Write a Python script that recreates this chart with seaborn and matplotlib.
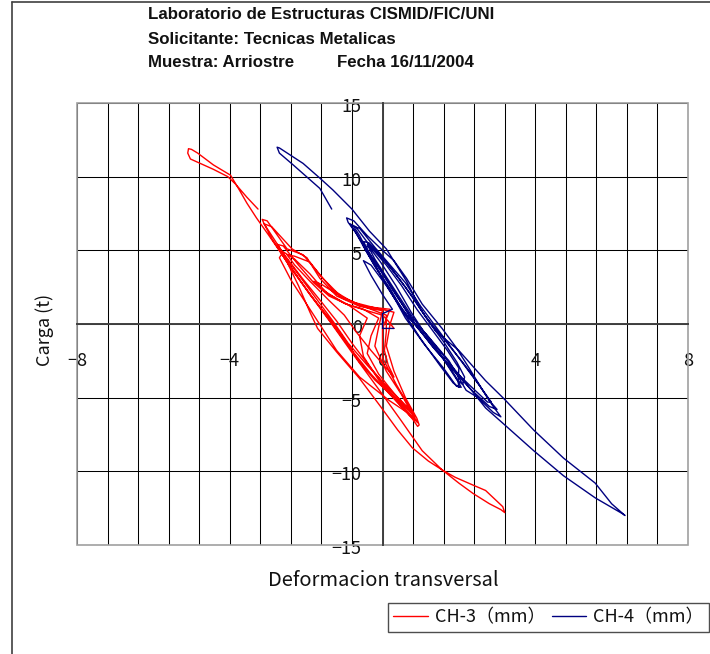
import matplotlib
matplotlib.use("Agg")
import matplotlib.pyplot as plt
from matplotlib.lines import Line2D
from matplotlib.patches import Rectangle
from matplotlib.ticker import MultipleLocator, FuncFormatter
from matplotlib.transforms import ScaledTranslation
import seaborn as sns

# Header texts
TITLE_1 = "Laboratorio de Estructuras CISMID/FIC/UNI"
TITLE_2 = "Solicitante: Tecnicas Metalicas"
TITLE_3 = "Muestra: Arriostre"
TITLE_4 = "Fecha 16/11/2004"
X_LABEL = "Deformacion transversal"
Y_LABEL = "Carga (t)"
SERIES = ["CH-3（mm）", "CH-4（mm）"]

# CH-3 hysteresis path (deformation, load)
# small cycles around the origin
red_small_x = [0.3, 0.15, 0.0,
               -0.4, -0.9, -1.4, -1.8, -1.6, -1.0, -0.4, 0.1, 0.1, 0.05, 0.15, 0.3, 0.1, -0.3, -0.7, -1.0,
               -1.4, -1.9, -2.3, -2.5, -2.3, -1.9, -1.6, -1.1, -0.5, 0.2, 0.0, 0.0, 0.36, 0.7, 0.85, 0.6, 0.2, -0.3, -0.8, -1.2, -1.6,
               -2.1, -2.6, -2.9, -3.1, -3.15, -3.02, -2.5, -2.08, -1.72, -1.3, -0.8, -0.2, 0.3, 0.2, 0.1, 0.3, 0.6, 0.9, 0.96, 0.92, 0.8, 0.4,
               -0.2, -0.6, -1.0, -1.4, -1.9, -2.4, -2.9, -3.1]
red_small_y = [-0.3, 0.2, 0.6,
               0.9, 1.3, 2.0, 2.9, 2.7, 1.7, 1.1, 0.6, -0.5, -1.8, -2.8, -3.6, -3.0, -1.8, -0.5, 0.6,
               1.6, 2.9, 4.0, 4.7, 4.6, 4.2, 3.2, 1.9, 1.2, 1.0, -0.3, -2.3, -4.1, -5.6, -6.3, -5.7, -4.6, -3.0, -1.3, 0.2, 1.5,
               3.1, 4.8, 6.0, 6.8, 7.1, 7.0, 5.1, 4.7, 3.6, 2.3, 1.5, 1.1, 0.8, 0.0, -1.5, -3.2, -5.0, -6.4, -6.85, -6.95, -6.5, -5.2,
               -3.8, -2.6, -1.0, 0.4, 2.0, 3.8, 5.8, 6.8]
red_mid_x = [-2.9, -2.37, -1.98, -1.64, -1.2, -0.6, 0.0, -0.1, -0.2, 0.1, 0.5, 0.8, 0.92, 0.7, 0.18, -0.6, -1.2, -1.6, -2.0, -2.4, -2.7,
             -2.6, -2.3, -1.9, -1.5, -1.0, -0.5, -0.1, -0.3, -0.4, -0.1, 0.3, 0.6, 0.75, 0.6, 0.1, -0.4, -0.9, -1.3, -1.7, -2.1, -2.5, -2.75, -2.6,
             -2.2, -1.8, -1.4, -0.9, -0.4, -0.6, -0.5, -0.1, 0.35, 0.7, 0.85, 0.65, 0.2, -0.3, -0.8, -1.2, -1.6, -2.0, -2.4, -2.6]
red_mid_y = [6.6, 5.1, 4.5, 3.1, 1.9, 1.2, 0.9, -0.2, -1.5, -3.2, -4.8, -6.2, -6.7, -6.1, -5.2, -3.6, -1.8, -0.2, 1.4, 3.0, 4.5,
             4.9, 4.4, 3.4, 2.2, 1.4, 1.0, 0.4, -0.8, -2.0, -3.4, -4.7, -5.6, -5.9, -5.5, -4.2, -2.8, -1.3, 0.2, 1.6, 3.0, 4.4, 5.4, 5.3,
             4.0, 2.8, 1.9, 1.3, 0.4, -0.8, -2.2, -3.8, -5.2, -6.2, -6.5, -6.0, -4.8, -3.4, -1.8, -0.4, 1.0, 2.4, 3.8, 4.6]
# last large cycle: down to the minimum, back up to the peak, stop at 7.8 t
red_big_x = [-2.5, -2.2, -1.9, -1.7, -1.2, -0.6, -0.08, 0.4, 0.78, 1.2, 1.56, 2.0, 2.37, 2.8, 3.1, 3.2,
             3.15, 2.7, 2.34, 1.9, 1.56, 1.04, 0.5, -0.08, -0.7, -1.33, -1.9, -2.3, -2.68, -3.0, -3.3, -3.55, -3.75, -3.98,
             -4.43, -4.84, -5.0, -5.08, -5.1, -5.03, -4.77, -4.43, -4.05, -3.85, -3.55, -3.26]
red_big_y = [4.2, 2.6, 0.8, -0.3, -1.9, -3.7, -5.5, -7.2, -8.4, -9.3, -9.9, -10.8, -11.5, -12.2, -12.6, -12.8,
             -12.4, -11.3, -10.9, -10.4, -9.9, -8.6, -6.6, -4.5, -2.3, 0.0, 2.0, 3.5, 4.9, 6.1, 7.2, 8.2, 9.1, 10.1,
             10.8, 11.6, 11.85, 11.9, 11.6, 11.2, 10.9, 10.5, 10.0, 9.5, 8.6, 7.8]

# CH-4 hysteresis path
blue_small_x = [0.3, 0.0, 0.0, 0.26,
                0.0, -0.3, -0.5, -0.3, 0.1, 0.5, 1.0, 1.5, 1.9, 2.06, 1.93, 1.6, 1.1, 0.6, 0.26, 0.0,
                -0.42, -0.7, -0.9, -0.94, -0.75, -0.4, 0.0, 0.3, 0.63, 1.04, 1.56, 1.93, 2.27, 2.6, 2.9, 3.1, 2.9, 2.5, 2.19, 1.74, 1.15, 0.7, 0.3, 0.0, -0.3,
                -0.6, -0.85, -0.7, -0.3, 0.1, 0.5, 0.9, 1.3, 1.7, 2.0, 1.98, 2.0, 1.85, 1.5, 1.0, 0.6, 0.2, -0.2]
blue_small_y = [-0.3, -0.3, 0.7, 1.0,
                2.0, 3.3, 4.3, 4.0, 2.6, 1.0, -0.5, -2.0, -3.5, -4.3, -4.2, -3.0, -1.4, 0.4, 2.0, 3.1,
                4.9, 6.2, 6.9, 7.2, 7.0, 6.0, 5.0, 4.3, 3.1, 1.35, -0.3, -1.6, -3.0, -4.4, -5.6, -6.3, -6.0, -5.0, -4.5, -2.5, -0.7, 0.4, 1.8, 3.1, 4.5,
                5.8, 6.8, 6.6, 5.2, 4.0, 2.6, 1.0, -0.4, -1.8, -3.0, -3.9, -4.3, -4.0, -2.8, -1.0, 0.6, 2.4, 3.9]
blue_mid_x = [-0.5, -0.3, 0.1, 0.6, 1.1, 1.6, 2.1, 2.5, 2.8, 3.0, 2.8, 2.3, 1.8, 1.3, 0.8, 0.4, 0.0, -0.4,
              -0.6, -0.75, -0.6, -0.2, 0.2, 0.6, 1.0, 1.4, 1.8, 2.2, 2.6, 2.85, 2.75, 2.3, 1.9, 1.4, 0.9, 0.5, 0.1, -0.3,
              -0.5, -0.35, 0.0, 0.4, 0.8, 1.2, 1.6, 1.95, 2.15, 2.1, 1.95, 1.6, 1.2, 0.75, 0.35, -0.05, -0.4]
blue_mid_y = [5.3, 5.2, 4.2, 2.5, 0.6, -1.0, -2.6, -4.0, -5.2, -5.8, -5.6, -4.4, -3.0, -1.5, 0.2, 1.8, 3.5, 5.0,
              6.0, 6.6, 6.5, 5.2, 4.0, 2.8, 1.2, -0.2, -1.6, -3.0, -4.4, -5.3, -5.3, -4.2, -3.2, -1.8, -0.2, 1.4, 3.0, 4.6,
              5.6, 5.5, 4.5, 3.2, 1.8, 0.2, -1.2, -2.6, -3.6, -4.1, -3.8, -2.4, -1.0, 0.8, 2.6, 4.2, 5.4]
blue_big_x = [-0.2, 0.3, 0.8, 1.3, 1.8, 2.3, 2.7, 3.18, 3.96, 4.74, 5.57, 6.1, 6.3, 6.35,
              6.0, 5.57, 4.74, 3.96, 3.18, 2.7, 2.0, 1.4, 1.0, 0.63, 0.1, -0.34, -0.8, -1.3, -1.64, -2.08, -2.55, -2.7, -2.76,
              -2.7, -2.34, -1.9, -1.64, -1.33]
blue_big_y = [4.4, 2.4, 0.4, -1.2, -2.8, -4.4, -5.7, -6.8, -8.6, -10.3, -11.8, -12.6, -12.9, -13.0,
              -12.2, -10.8, -9.1, -7.2, -5.07, -3.85, -1.8, -0.5, 1.0, 2.9, 5.1, 6.3, 7.8, 9.1, 9.9, 10.9, 11.7, 11.95, 12.0,
              11.6, 10.8, 9.8, 9.2, 7.8]

RED = "#ff0000"
BLUE = "#000080"
W, H = 710, 654

red_x = red_small_x + red_mid_x + red_big_x
red_y = red_small_y + red_mid_y + red_big_y
blue_x = blue_small_x + blue_mid_x + blue_big_x
blue_y = blue_small_y + blue_mid_y + blue_big_y
assert len(red_x) == len(red_y) and len(blue_x) == len(blue_y)

sns.set_theme(style="white")
plt.rcParams["font.family"] = ["Noto Sans CJK JP", "DejaVu Sans"]

fig = plt.figure(figsize=(W / 100, H / 100), dpi=100)
ax = fig.add_axes([77 / W, 1 - 545 / H, (688 - 77) / W, (545 - 103) / H])

sns.lineplot(x=red_x, y=red_y, sort=False, estimator=None, color=RED, lw=1.0, ax=ax, zorder=4)
sns.lineplot(x=blue_x, y=blue_y, sort=False, estimator=None, color=BLUE, lw=1.0, ax=ax, zorder=4)

ax.set_xlim(-8, 8)
ax.set_ylim(-15, 15)
ax.xaxis.set_major_locator(MultipleLocator(4))
ax.xaxis.set_minor_locator(MultipleLocator(0.8))
ax.yaxis.set_major_locator(MultipleLocator(5))
minus_fmt = FuncFormatter(lambda v, pos: f"{v:g}".replace("-", "\u2212"))
ax.xaxis.set_major_formatter(minus_fmt)
ax.yaxis.set_major_formatter(minus_fmt)
ax.grid(True, which="both", axis="x", color="black", lw=0.75, zorder=1)
ax.grid(True, which="major", axis="y", color="black", lw=0.75, zorder=1)
ax.set_axisbelow(True)

# axes cross at the origin
ax.spines["left"].set_position("zero")
ax.spines["bottom"].set_position("zero")
for s in ["left", "bottom"]:
    ax.spines[s].set_color("#404040")
    ax.spines[s].set_linewidth(1.4)
    ax.spines[s].set_zorder(3)
for s in ["top", "right"]:
    ax.spines[s].set_visible(False)
ax.add_patch(Rectangle((0, 0), 1, 1, transform=ax.transAxes, fill=False,
                       edgecolor="#a0a0a0", lw=1.2, zorder=2, clip_on=False))

ax.tick_params(axis="x", which="both", length=0, pad=20, labelsize=13, colors="#111111")
ax.tick_params(axis="y", which="both", length=0, pad=15, labelsize=13, colors="#111111")
ax.set_xlabel("")
ax.set_ylabel("")
# y labels sit a little below their grid line, so the minus stays visible
shift = ScaledTranslation(0, -3 / 72, fig.dpi_scale_trans)
for lbl in ax.get_yticklabels():
    lbl.set_verticalalignment("center")
    lbl.set_transform(lbl.get_transform() + shift)

# header
tf = dict(family=["Liberation Sans", "DejaVu Sans"], fontweight="bold", fontsize=12.2, color="#111111")
fig.text(148 / W, 1 - 19 / H, TITLE_1, va="baseline", ha="left", **tf)
fig.text(148 / W, 1 - 44 / H, TITLE_2, va="baseline", ha="left", **tf)
fig.text(148 / W, 1 - 67 / H, TITLE_3, va="baseline", ha="left", **tf)
fig.text(337 / W, 1 - 67 / H, TITLE_4, va="baseline", ha="left", **tf)

fig.text(383 / W, 1 - 581 / H, X_LABEL, ha="center", va="center", fontsize=14.5, color="#111111")
fig.text(45 / W, 1 - 330 / H, Y_LABEL, ha="center", va="center", rotation=90, fontsize=13, color="#111111")

# outer frame (partly cropped)
fig.add_artist(Line2D([12 / W, 12 / W], [0, 1 - 2 / H], transform=fig.transFigure, color="#404040", lw=1.2))
fig.add_artist(Line2D([12 / W, 1], [1 - 2 / H, 1 - 2 / H], transform=fig.transFigure, color="#404040", lw=1.2))

handles = [Line2D([], [], color=RED, lw=1.0), Line2D([], [], color=BLUE, lw=1.0)]
leg = fig.legend(handles, SERIES, loc="upper left", bbox_to_anchor=(388 / W, 1 - 603 / H),
                 ncol=2, fontsize=13, frameon=True, fancybox=False, borderaxespad=0,
                 handlelength=1.9, handletextpad=0.4, columnspacing=0.35, borderpad=0.3)
leg.get_frame().set_edgecolor("#222222")
leg.get_frame().set_linewidth(1.0)
for t in leg.get_texts():
    t.set_color("#111111")

fig.savefig("out.png", dpi=100)
